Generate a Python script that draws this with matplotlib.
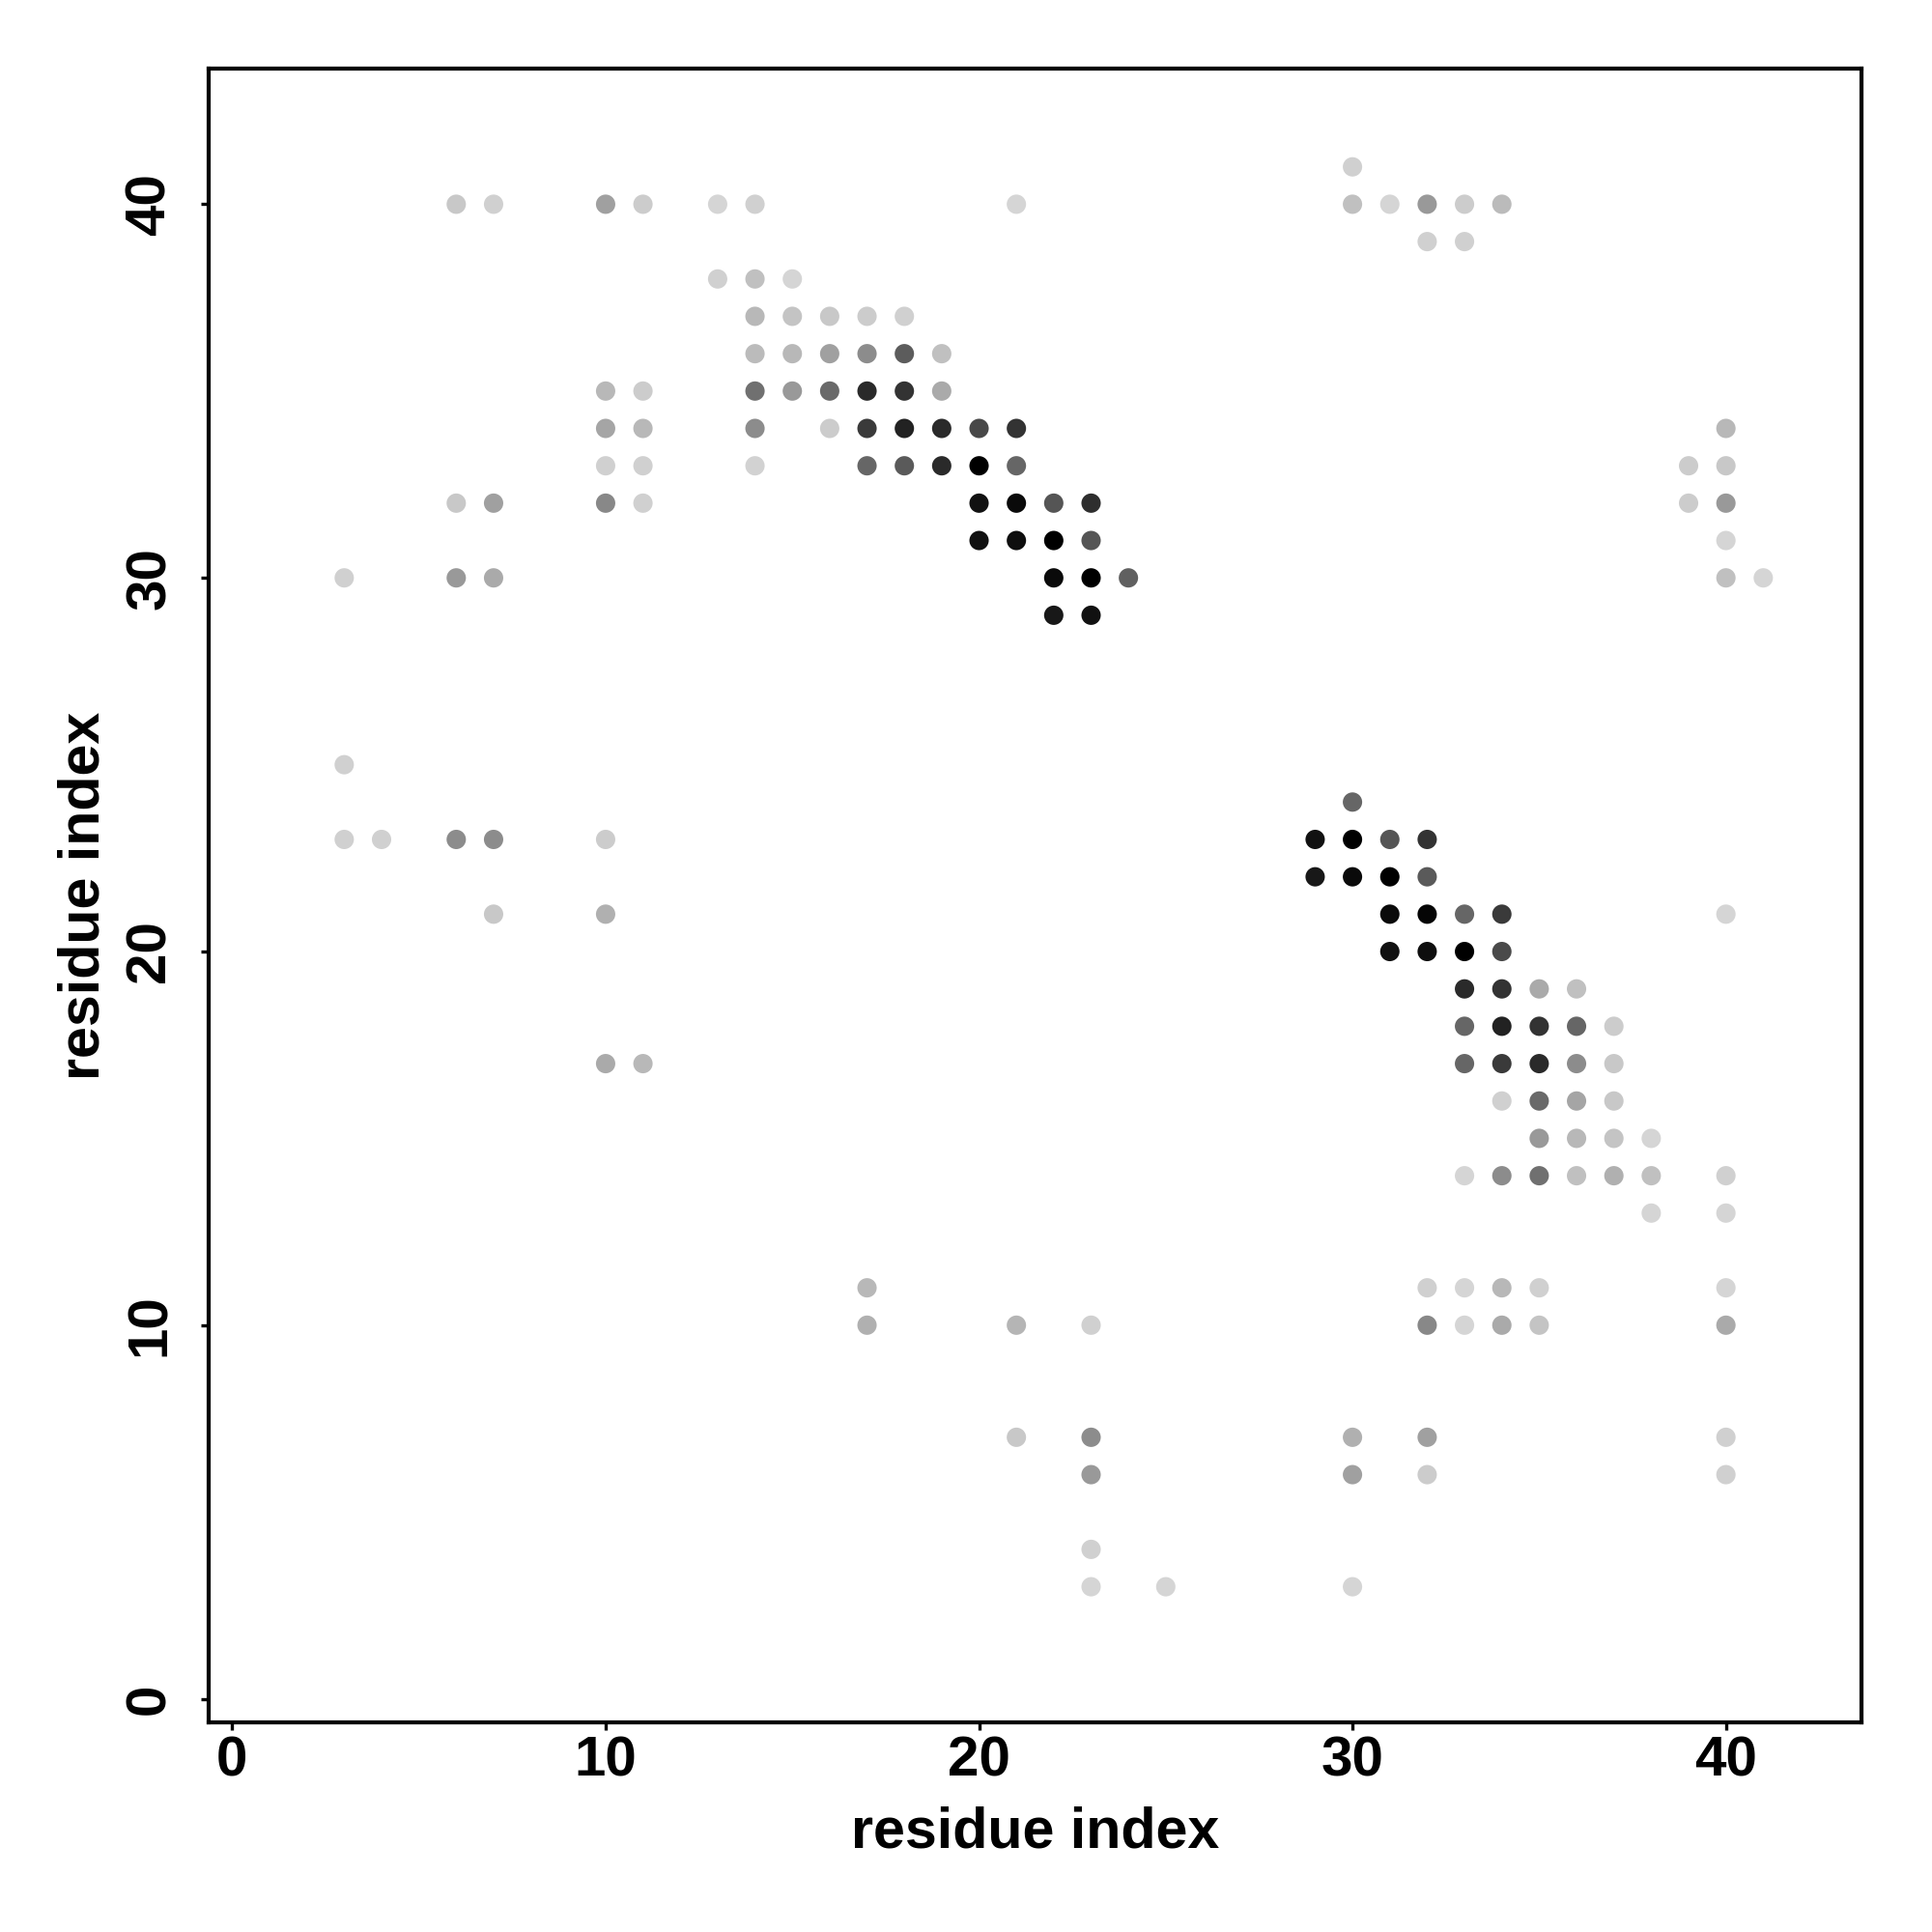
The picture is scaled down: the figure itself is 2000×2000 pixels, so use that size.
import matplotlib
matplotlib.use("Agg")
import matplotlib.pyplot as plt

# contact map: residue i, residue j, grey shade of the dot (0 = black, 255 = white)
res_i = [
    30,
    6, 7, 10, 11, 13, 14, 21, 30, 31, 32, 33, 34,
    32, 33,
    13, 14, 15,
    14, 15, 16, 17, 18,
    14, 15, 16, 17, 18, 19,
    10, 11, 14, 15, 16, 17, 18, 19,
    10, 11, 14, 16, 17, 18, 19, 20, 21, 40,
    10, 11, 14, 17, 18, 19, 20, 21, 39, 40,
    6, 7, 10, 11, 20, 21, 22, 23, 39, 40,
    20, 21, 22, 23, 40,
    3, 6, 7, 22, 23, 24, 40, 41,
    22, 23,
    3,
    30,
    3, 4, 6, 7, 10, 29, 30, 31, 32,
    29, 30, 31, 32,
    7, 10, 31, 32, 33, 34, 40,
    31, 32, 33, 34,
    33, 34, 35, 36,
    33, 34, 35, 36, 37,
    10, 11, 33, 34, 35, 36, 37,
    34, 35, 36, 37,
    35, 36, 37, 38,
    33, 34, 35, 36, 37, 38, 40,
    38, 40,
    17, 32, 33, 34, 35, 40,
    17, 21, 23, 32, 33, 34, 35, 40,
    21, 23, 30, 32, 40,
    23, 30, 32, 40,
    23,
    23, 25, 30,
]
res_j = [
    41,
    40, 40, 40, 40, 40, 40, 40, 40, 40, 40, 40, 40,
    39, 39,
    38, 38, 38,
    37, 37, 37, 37, 37,
    36, 36, 36, 36, 36, 36,
    35, 35, 35, 35, 35, 35, 35, 35,
    34, 34, 34, 34, 34, 34, 34, 34, 34, 34,
    33, 33, 33, 33, 33, 33, 33, 33, 33, 33,
    32, 32, 32, 32, 32, 32, 32, 32, 32, 32,
    31, 31, 31, 31, 31,
    30, 30, 30, 30, 30, 30, 30, 30,
    29, 29,
    25,
    24,
    23, 23, 23, 23, 23, 23, 23, 23, 23,
    22, 22, 22, 22,
    21, 21, 21, 21, 21, 21, 21,
    20, 20, 20, 20,
    19, 19, 19, 19,
    18, 18, 18, 18, 18,
    17, 17, 17, 17, 17, 17, 17,
    16, 16, 16, 16,
    15, 15, 15, 15,
    14, 14, 14, 14, 14, 14, 14,
    13, 13,
    11, 11, 11, 11, 11, 11,
    10, 10, 10, 10, 10, 10, 10, 10,
    7, 7, 7, 7, 7,
    6, 6, 6, 6,
    4,
    3, 3, 3,
]
shade = [
    0xd0,
    0xc8, 0xd0, 0xa0, 0xcc, 0xd5, 0xd0, 0xd5, 0xc0, 0xd5, 0x99, 0xcc, 0xbb,
    0xd0, 0xd0,
    0xd0, 0xc0, 0xd5,
    0xb8, 0xc4, 0xc8, 0xcc, 0xd0,
    0xbb, 0xb8, 0xa0, 0x8c, 0x5c, 0xc0,
    0xb8, 0xcc, 0x70, 0x99, 0x6a, 0x2a, 0x33, 0xaa,
    0xa5, 0xb8, 0x8c, 0xcc, 0x3a, 0x22, 0x2a, 0x48, 0x33, 0xb8,
    0xd0, 0xd0, 0xd2, 0x66, 0x5a, 0x2a, 0x00, 0x66, 0xcc, 0xc8,
    0xc8, 0xa0, 0x88, 0xd0, 0x11, 0x0a, 0x55, 0x2e, 0xcc, 0x99,
    0x11, 0x0e, 0x00, 0x55, 0xd5,
    0xd0, 0x99, 0xaa, 0x0a, 0x00, 0x60, 0xc0, 0xd5,
    0x18, 0x11,
    0xd0,
    0x66,
    0xd0, 0xd0, 0x8c, 0x8c, 0xcc, 0x11, 0x00, 0x55, 0x33,
    0x18, 0x0a, 0x00, 0x5a,
    0xc8, 0xb0, 0x0a, 0x05, 0x66, 0x3a, 0xd5,
    0x11, 0x0e, 0x00, 0x4a,
    0x2a, 0x33, 0xaa, 0xc0,
    0x66, 0x22, 0x33, 0x66, 0xcc,
    0xaa, 0xb8, 0x66, 0x3a, 0x2a, 0x8c, 0xc8,
    0xd0, 0x6a, 0xa5, 0xc8,
    0x99, 0xb8, 0xc4, 0xd5,
    0xd5, 0x8c, 0x70, 0xc0, 0xb0, 0xc0, 0xd0,
    0xd5, 0xd5,
    0xb8, 0xd0, 0xd5, 0xb8, 0xd0, 0xd5,
    0xb0, 0xb5, 0xd0, 0x88, 0xd5, 0xaa, 0xc4, 0xaa,
    0xc8, 0x8c, 0xb0, 0xa0, 0xd0,
    0x99, 0xa0, 0xcc, 0xd0,
    0xd0,
    0xd5, 0xd5, 0xd5,
]
ticks = [0, 10, 20, 30, 40]

plt.rcParams["font.family"] = ["Liberation Sans", "DejaVu Sans"]
plt.rcParams["font.weight"] = "bold"

fig = plt.figure(figsize=(10, 10), dpi=200)
ax = fig.add_axes([0.108, 0.1085, 0.8555, 0.856])

ax.scatter(res_i, res_j, c=shade, cmap="gray", vmin=0, vmax=255,
           s=52, marker="o", linewidths=0)

ax.set_xlim(-0.63, 43.63)
ax.set_ylim(-0.63, 43.63)
ax.set_xticks(ticks)
ax.set_yticks(ticks)

for sp in ax.spines.values():
    sp.set_linewidth(1.5)
ax.tick_params(direction="out", length=3, width=1.2, labelsize=21)
ax.tick_params(axis="x", pad=2)
ax.tick_params(axis="y", pad=9)
for lab in ax.get_yticklabels():
    lab.set_rotation(90)
    lab.set_va("center")

ax.set_xlabel("residue index", fontsize=21.3, fontweight="bold")
ax.xaxis.set_label_coords(0.5, -0.0754)
ax.xaxis.label.set_va("baseline")
ax.set_ylabel("residue index", fontsize=21.3, fontweight="bold")
ax.yaxis.set_label_coords(-0.0666, 0.5)
ax.yaxis.label.set_rotation_mode("anchor")
ax.yaxis.label.set_ha("center")
ax.yaxis.label.set_va("baseline")

fig.savefig("out.png", dpi=200, facecolor="white")
